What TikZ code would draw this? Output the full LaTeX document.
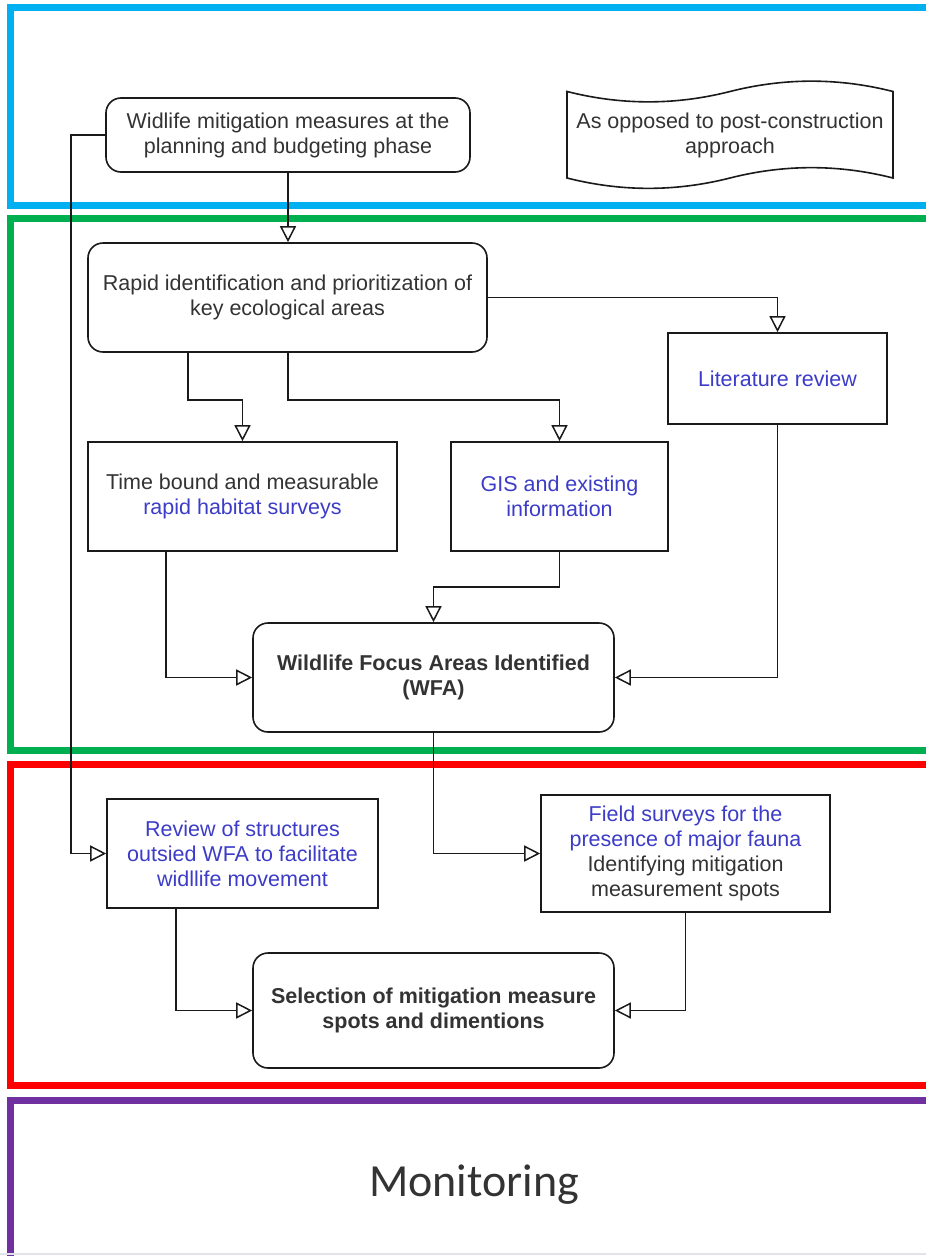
\documentclass[tikz,border=0pt]{standalone}
\usepackage{fontspec}
\setmainfont{Liberation Sans}
\newfontfamily\monfont{Carlito}
\usetikzlibrary{arrows.meta}
\definecolor{txt}{HTML}{333333}
\definecolor{lnk}{HTML}{3C3CC8}
\definecolor{edge}{HTML}{1A1A1A}
\definecolor{fblue}{HTML}{00B0F0}
\definecolor{fgreen}{HTML}{00B050}
\definecolor{fred}{HTML}{FF0000}
\definecolor{fpurple}{HTML}{7030A0}
\definecolor{faint}{HTML}{E2E2EA}

\begin{document}
\begin{tikzpicture}[x=1pt,y=-1pt,
  every node/.style={font=\fontsize{21.5}{25}\selectfont, text=txt, align=center, inner sep=0pt},
  boldtext/.style={font=\fontsize{21.5}{25}\selectfont\bfseries},
  rbox/.style={draw=edge, line width=1.6pt, rounded corners=15pt, fill=white},
  sbox/.style={draw=edge, line width=1.6pt, fill=white},
  arr/.style={draw=edge, line width=1.5pt, -{Triangle[open, length=16pt, width=16pt]}},
  frame/.style={line width=7pt},
]
\useasboundingbox (0,0) rectangle (926,1256);
\clip (0,0) rectangle (926,1256);

% phase frames (they run past the right edge)
\draw[frame, fblue]   (10,7)    rectangle (1000,205);
\draw[frame, fgreen]  (10,218)  rectangle (1000,750);
\draw[frame, fred]    (10,764)  rectangle (1000,1085);
\draw[frame, fpurple] (10,1100) rectangle (1000,1320);
\draw[faint, line width=1.5pt] (0,1254) -- (926,1254);

% planning phase
\node[rbox, minimum width=364pt, minimum height=74pt] (A) at (288,135)
  {Widlife mitigation measures at the\\planning and budgeting phase};

\draw[edge, line width=1.6pt, fill=white]
  (567,91.5) .. controls (621.3,105.3) and (675.7,105.3) .. (730,91.5)
             .. controls (784.3,77.7) and (838.7,77.7) .. (893,91.5)
  -- (893,178) .. controls (838.7,164.2) and (784.3,164.2) .. (730,178)
             .. controls (675.7,191.8) and (621.3,191.8) .. (567,178)
  -- cycle;
\node (T) at (730,135.5) {As opposed to post-construction\\approach};

% identification phase
\node[rbox, minimum width=399pt, minimum height=109pt] (B) at (287.5,297.5)
  {Rapid identification and prioritization of\\key ecological areas};
\node[sbox, minimum width=219pt, minimum height=91pt, text=lnk] (C) at (777.5,378.5)
  {Literature review};
\node[sbox, minimum width=309pt, minimum height=109pt] (D) at (242.5,496.5)
  {Time bound and measurable\\\textcolor{lnk}{rapid habitat surveys}};
\node[sbox, minimum width=217pt, minimum height=109pt, text=lnk] (E) at (559.5,496.5)
  {GIS and existing\\information};
\node[rbox, boldtext, minimum width=361pt, minimum height=109pt] (F) at (433.5,677.5)
  {Wildlife Focus Areas Identified\\(WFA)};

% selection phase
\node[sbox, minimum width=271pt, minimum height=109pt, text=lnk] (G) at (242.5,853.5)
  {Review of structures\\outsied WFA to facilitate\\widllife movement};
\node[sbox, minimum width=289pt, minimum height=117pt] (H) at (685.5,853.5)
  {\textcolor{lnk}{Field surveys for the}\\\textcolor{lnk}{presence of major fauna}\\Identifying mitigation\\measurement spots};
\node[rbox, boldtext, minimum width=361pt, minimum height=115pt] (I) at (433.5,1010.5)
  {Selection of mitigation measure\\spots and dimentions};

% monitoring phase
\node[font=\monfont\fontsize{46}{50}\selectfont, text=txt, anchor=base] (M) at (474,1196) {Monitoring};

% bend points
\coordinate (kA) at (71,135);
\coordinate (kB1) at (188,400);
\coordinate (kB2) at (288,400);
\coordinate (kD) at (166,677);
\coordinate (kE) at (560,587);
\coordinate (kG) at (176,1010);

% connectors
\draw[arr] (A.south) -- (A.south |- B.north);
\draw[arr] (A.west) -- (kA) |- (G.west);
\draw[arr] (B.east) -| (C.north);
\draw[arr] (B.south -| kB1) -- (kB1) -| (D.north);
\draw[arr] (B.south -| kB2) -- (kB2) -| (E.north);
\draw[arr] (D.south -| kD) |- (F.west);
\draw[arr] (E.south) -- (E.south |- kE) -| (F.north);
\draw[arr] (C.south) |- (F.east);
\draw[arr] (F.south) |- (H.west);
\draw[arr] (G.south -| kG) |- (I.west);
\draw[arr] (H.south) |- (I.east);
\end{tikzpicture}
\end{document}
